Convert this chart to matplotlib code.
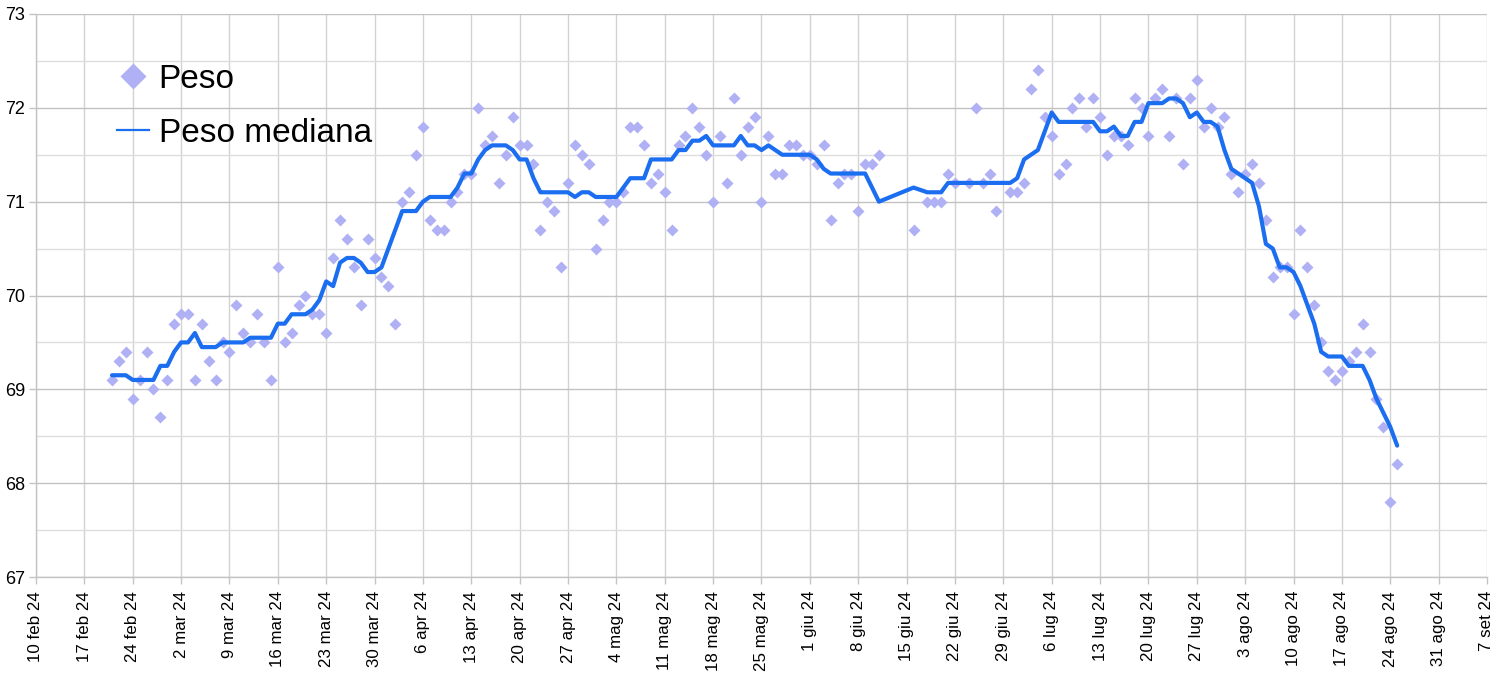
import matplotlib
matplotlib.use("Agg")
import matplotlib.pyplot as plt
from matplotlib.lines import Line2D
from matplotlib.ticker import MultipleLocator
from datetime import datetime

# ---------------- data ----------------
peso_dates = [
    "02-21", "02-22", "02-23", "02-24", "02-25", "02-26", "02-27", "02-28", "02-29",
    "03-01", "03-02", "03-03", "03-04", "03-05", "03-06", "03-07", "03-08", "03-09", "03-10",
    "03-11", "03-12", "03-13", "03-14", "03-15", "03-16", "03-17", "03-18", "03-19", "03-20",
    "03-21", "03-22", "03-23", "03-24", "03-25", "03-26", "03-27", "03-28", "03-29", "03-30", "03-31",
    "04-01", "04-02", "04-03", "04-04", "04-05", "04-06", "04-07", "04-08", "04-09", "04-10",
    "04-11", "04-12", "04-13", "04-14", "04-15", "04-16", "04-17", "04-18", "04-19", "04-20",
    "04-21", "04-22", "04-23", "04-24", "04-25", "04-26", "04-27", "04-28", "04-29", "04-30",
    "05-01", "05-02", "05-03", "05-04", "05-05", "05-06", "05-07", "05-08", "05-09", "05-10",
    "05-11", "05-12", "05-13", "05-14", "05-15", "05-16", "05-17", "05-18", "05-19", "05-20",
    "05-21", "05-22", "05-23", "05-24", "05-25", "05-26", "05-27", "05-28", "05-29", "05-30", "05-31",
    "06-01", "06-02", "06-03", "06-04", "06-05", "06-06", "06-07", "06-08", "06-09", "06-10",
    "06-11", "06-16", "06-18", "06-19", "06-20", "06-21", "06-22", "06-24", "06-25", "06-26",
    "06-27", "06-28", "06-30",
    "07-01", "07-02", "07-03", "07-04", "07-05", "07-06", "07-07", "07-08", "07-09", "07-10",
    "07-11", "07-12", "07-13", "07-14", "07-15", "07-16", "07-17", "07-18", "07-19", "07-20",
    "07-21", "07-22", "07-23", "07-24", "07-25", "07-26", "07-27", "07-28", "07-29", "07-30", "07-31",
    "08-01", "08-02", "08-03", "08-04", "08-05", "08-06", "08-07", "08-08", "08-09", "08-10",
    "08-11", "08-12", "08-13", "08-14", "08-15", "08-16", "08-17", "08-18", "08-19", "08-20",
    "08-21", "08-22", "08-23", "08-24", "08-25",
]
peso_values = [
    69.1, 69.3, 69.4, 68.9, 69.1, 69.4, 69.0, 68.7, 69.1,
    69.7, 69.8, 69.8, 69.1, 69.7, 69.3, 69.1, 69.5, 69.4, 69.9,
    69.6, 69.5, 69.8, 69.5, 69.1, 70.3, 69.5, 69.6, 69.9, 70.0,
    69.8, 69.8, 69.6, 70.4, 70.8, 70.6, 70.3, 69.9, 70.6, 70.4, 70.2,
    70.1, 69.7, 71.0, 71.1, 71.5, 71.8, 70.8, 70.7, 70.7, 71.0,
    71.1, 71.3, 71.3, 72.0, 71.6, 71.7, 71.2, 71.5, 71.9, 71.6,
    71.6, 71.4, 70.7, 71.0, 70.9, 70.3, 71.2, 71.6, 71.5, 71.4,
    70.5, 70.8, 71.0, 71.0, 71.1, 71.8, 71.8, 71.6, 71.2, 71.3,
    71.1, 70.7, 71.6, 71.7, 72.0, 71.8, 71.5, 71.0, 71.7, 71.2,
    72.1, 71.5, 71.8, 71.9, 71.0, 71.7, 71.3, 71.3, 71.6, 71.6, 71.5,
    71.5, 71.4, 71.6, 70.8, 71.2, 71.3, 71.3, 70.9, 71.4, 71.4,
    71.5, 70.7, 71.0, 71.0, 71.0, 71.3, 71.2, 71.2, 72.0, 71.2,
    71.3, 70.9, 71.1,
    71.1, 71.2, 72.2, 72.4, 71.9, 71.7, 71.3, 71.4, 72.0, 72.1,
    71.8, 72.1, 71.9, 71.5, 71.7, 71.7, 71.6, 72.1, 72.0, 71.7,
    72.1, 72.2, 71.7, 72.1, 71.4, 72.1, 72.3, 71.8, 72.0, 71.8, 71.9,
    71.3, 71.1, 71.3, 71.4, 71.2, 70.8, 70.2, 70.3, 70.3, 69.8,
    70.7, 70.3, 69.9, 69.5, 69.2, 69.1, 69.2, 69.3, 69.4, 69.7,
    69.4, 68.9, 68.6, 67.8, 68.2,
]

mediana_dates = [
    "02-21", "02-23", "02-24", "02-27", "02-28", "02-29", "03-01", "03-02", "03-03", "03-04",
    "03-05", "03-07", "03-08", "03-11", "03-12", "03-15", "03-16", "03-17", "03-18", "03-20",
    "03-21", "03-22", "03-23", "03-24", "03-25", "03-26", "03-27", "03-28", "03-29", "03-30",
    "03-31", "04-03", "04-05", "04-06", "04-07", "04-10", "04-11", "04-12", "04-13", "04-14",
    "04-15", "04-16", "04-18", "04-19", "04-20", "04-21", "04-22", "04-23", "04-27", "04-28",
    "04-29", "04-30", "05-01", "05-04", "05-05", "05-06", "05-08", "05-09", "05-12", "05-13",
    "05-14", "05-15", "05-16", "05-17", "05-18", "05-21", "05-22", "05-23", "05-24", "05-25",
    "05-26", "05-27", "05-28", "06-01", "06-02", "06-03", "06-04", "06-09", "06-11", "06-16",
    "06-18", "06-20", "06-21", "06-30", "07-01", "07-02", "07-04", "07-06", "07-07", "07-12",
    "07-13", "07-14", "07-15", "07-16", "07-17", "07-18", "07-19", "07-20", "07-22", "07-23",
    "07-24", "07-25", "07-26", "07-27", "07-28", "07-29", "07-30", "07-31", "08-01", "08-02",
    "08-03", "08-04", "08-05", "08-06", "08-07", "08-08", "08-09", "08-10", "08-11", "08-12",
    "08-13", "08-14", "08-15", "08-17", "08-18", "08-20", "08-21", "08-22", "08-23", "08-24",
    "08-25",
]
mediana_values = [
    69.15, 69.15, 69.1, 69.1, 69.25, 69.25, 69.4, 69.5, 69.5, 69.6,
    69.45, 69.45, 69.5, 69.5, 69.55, 69.55, 69.7, 69.7, 69.8, 69.8,
    69.85, 69.95, 70.15, 70.1, 70.35, 70.4, 70.4, 70.35, 70.25, 70.25,
    70.3, 70.9, 70.9, 71.0, 71.05, 71.05, 71.15, 71.3, 71.3, 71.45,
    71.55, 71.6, 71.6, 71.55, 71.45, 71.45, 71.25, 71.1, 71.1, 71.05,
    71.1, 71.1, 71.05, 71.05, 71.15, 71.25, 71.25, 71.45, 71.45, 71.55,
    71.55, 71.65, 71.65, 71.7, 71.6, 71.6, 71.7, 71.6, 71.6, 71.55,
    71.6, 71.55, 71.5, 71.5, 71.45, 71.35, 71.3, 71.3, 71.0, 71.15,
    71.1, 71.1, 71.2, 71.2, 71.25, 71.45, 71.55, 71.95, 71.85, 71.85,
    71.75, 71.75, 71.8, 71.7, 71.7, 71.85, 71.85, 72.05, 72.05, 72.1,
    72.1, 72.05, 71.9, 71.95, 71.85, 71.85, 71.8, 71.55, 71.35, 71.3,
    71.25, 71.2, 70.95, 70.55, 70.5, 70.3, 70.3, 70.25, 70.1, 69.9,
    69.7, 69.4, 69.35, 69.35, 69.25, 69.25, 69.1, 68.9, 68.75, 68.6,
    68.4,
]

tick_dates = [
    "02-10", "02-17", "02-24", "03-02", "03-09", "03-16", "03-23", "03-30",
    "04-06", "04-13", "04-20", "04-27", "05-04", "05-11", "05-18", "05-25",
    "06-01", "06-08", "06-15", "06-22", "06-29", "07-06", "07-13", "07-20",
    "07-27", "08-03", "08-10", "08-17", "08-24", "08-31", "09-07",
]
tick_labels = [
    "10 feb 24", "17 feb 24", "24 feb 24", "2 mar 24", "9 mar 24", "16 mar 24",
    "23 mar 24", "30 mar 24", "6 apr 24", "13 apr 24", "20 apr 24", "27 apr 24",
    "4 mag 24", "11 mag 24", "18 mag 24", "25 mag 24", "1 giu 24", "8 giu 24",
    "15 giu 24", "22 giu 24", "29 giu 24", "6 lug 24", "13 lug 24", "20 lug 24",
    "27 lug 24", "3 ago 24", "10 ago 24", "17 ago 24", "24 ago 24", "31 ago 24",
    "7 set 24",
]
y_ticks = [67, 68, 69, 70, 71, 72, 73]
series_names = ["Peso", "Peso mediana"]


def to_dt(s):
    return datetime.strptime("2024-" + s, "%Y-%m-%d")


px = [to_dt(d) for d in peso_dates]
mx = [to_dt(d) for d in mediana_dates]
tx = [to_dt(d) for d in tick_dates]

# ---------------- figure ----------------
plt.rcParams["font.family"] = ["Liberation Sans", "DejaVu Sans"]
W, H = 1505, 676
fig = plt.figure(figsize=(W / 100, H / 100), dpi=100)
L, R, T, B = 36, 1487, 14, 577
ax = fig.add_axes([L / W, 1 - B / H, (R - L) / W, (B - T) / H])

scatter_color = "#b0b0f4"
line_color = "#1c6ef0"

ax.plot(px, peso_values, linestyle="none", marker="D", markersize=6.3,
        markerfacecolor=scatter_color, markeredgecolor="none", zorder=3)
ax.plot(mx, mediana_values, color=line_color, linewidth=3.0,
        solid_joinstyle="round", solid_capstyle="round", zorder=4)

ax.set_xlim(tx[0], tx[-1])
ax.set_ylim(67, 73)
ax.set_xticks(tx)
ax.set_xticklabels(tick_labels, rotation=90, fontsize=12.2)
ax.set_yticks(y_ticks)
ax.set_yticklabels([str(v) for v in y_ticks], fontsize=13)
ax.yaxis.set_minor_locator(MultipleLocator(0.5))
ax.tick_params(axis="y", which="minor", length=0)
ax.tick_params(axis="both", which="major", length=5, width=1, color="#c4c4c4", pad=3)
ax.tick_params(axis="x", pad=5)

ax.grid(True, which="major", axis="y", color="#c2c2c2", linewidth=1.0)
ax.grid(True, which="minor", axis="y", color="#dedede", linewidth=1.0)
ax.grid(True, which="major", axis="x", color="#d2d2d2", linewidth=1.0)
ax.set_axisbelow(True)
for side in ["top", "right"]:
    ax.spines[side].set_visible(False)
for side in ["left", "bottom"]:
    ax.spines[side].set_color("#c4c4c4")
    ax.spines[side].set_linewidth(1.0)

handles = [
    Line2D([], [], linestyle="none", marker="D", markersize=13,
           markerfacecolor=scatter_color, markeredgecolor="none"),
    Line2D([], [], color=line_color, linewidth=1.6),
]
leg = ax.legend(handles, series_names, loc="upper left",
                bbox_to_anchor=((117 - L) / (R - L), 1 - (64 - T) / (B - T)),
                frameon=False, fontsize=24, handlelength=0.95, handletextpad=0.3,
                labelspacing=0.68, borderpad=0, borderaxespad=0)

fig.savefig("out.png", dpi=100, facecolor="white")
